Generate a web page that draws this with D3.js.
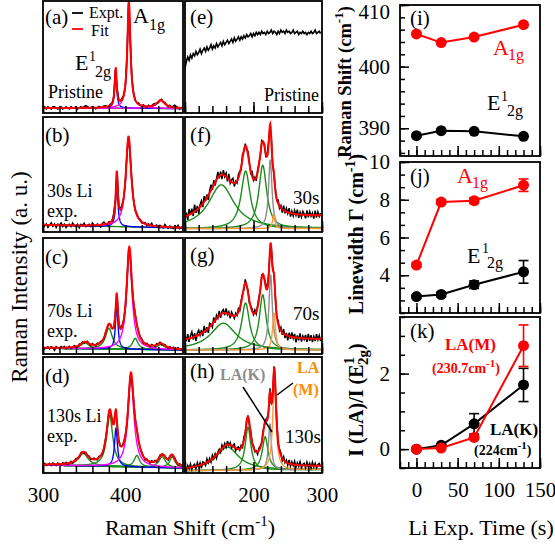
<!DOCTYPE html>
<html><head><meta charset="utf-8">
<script src="https://cdn.jsdelivr.net/npm/d3@7"></script>
<style>body{margin:0;background:#fff}</style>
</head><body><svg id="c" width="555" height="546"></svg>
<script>
// ---------------- DATA ----------------
const leftDomain=[300,470];   // Raman shift cm-1, panels a-d
const midDomain=[100,300];    // Raman shift cm-1, panels e-h
const leftMajor=[300,400], leftMinor=d3.range(300,461,20);
const midMajor=[100,200,300], midMinor=d3.range(100,301,20);
const leftLabels=[300,400], midLabels=[200,300];
// Lorentzian components: [center cm-1, FWHM, amplitude (a.u.), mode]
const compsA=[[388.3,2.9,0.34,"E"],[404.3,4.5,0.95,"A"],[443,12,0.07,"A"]];
const compsB=[[389.6,2.95,0.43,"E"],[403.9,7.9,0.78,"A"]];
const compsC=[[351,12,0.05,"G"],[380,10,0.18,"G"],[389.5,3.5,0.385,"E"],[404.8,7.9,0.848,"A"],[412,8,0.095,"G"],[443,12,0.043,"G"]];
const compsD=[[349,14,0.107,"G"],[381,9,0.44,"G"],[388.6,4.2,0.33,"E"],[406.8,8.7,0.77,"A"],[414,8,0.1,"G"],[444.7,10,0.093,"G"],[457,8,0.093,"G"]];
const compsF=[[153,45,0.38,"G"],[188.5,16,0.5,"G"],[213.5,14,0.55,"G"],[224.5,6,0.6,"K"],[229.5,4,0.12,"M"]];
const compsG=[[156,45,0.23,"G"],[188.4,14,0.405,"G"],[213.5,12,0.475,"G"],[225,6,0.65,"K"],[230,5,0.32,"M"]];
const compsH=[[162,40,0.2,"G"],[192,10,0.37,"G"],[217,10,0.287,"G"],[224,5,0.4,"K"],[230.5,6,0.76,"M"]];
// backgrounds [at low end, at high end] (fit) and component baselines
const bgA=[0.045,0.04], bgB=[0.06,0.035], bgC=[0.05,0.035], bgD=[0.069,0.043];
const bgF=[0.07,0.13], bgG=[0.09,0.12], bgH=[0.02,0.055];
const cbF=[0.03,0.03], cbG=[0.035,0.035], cbH=[0.02,0.03];
// experimental residuals (x 0.01 a.u.), step 2 cm-1 from the low end
const resA=[0,1,-1,1,0,-1,1,1,0,-1,0,1,-1,0,1,0,-1,1,0,0,1,-1,0,1,0,1,2,1,0,0,1,0,-1,0,1,0,0,1,1,0,0,1,0,-1,0,1,0,0,1,0,-1,0,1,0,0,1,-1,0,1,0,0,1,0,-1,1,0,0,1,1,0,-1,0,1,0,1,0,-1,1,0,1,2,1,0,-1,0,1];
const resB=[2,-1,1,-2,0,2,-1,1,-2,1,0,2,-1,1,-2,0,1,-1,2,0,-1,1,-2,1,0,2,-1,0,1,-1,2,0,-1,1,0,-2,1,2,0,-1,1,0,-1,2,0,1,-1,0,1,0,-1,1,0,-1,1,0,-1,1,0,1,-1,0,1,-1,1,0,2,-1,0,1,-1,1,0,-1,2,0,-1,1,0,-1,1,0,2,-1,0,1];
const resC=[1,-1,0,1,-1,1,0,-2,1,0,-1,1,0,1,-1,0,1,-1,0,1,0,-1,1,0,1,-1,0,1,0,-1,1,0,-1,1,0,1,0,-1,1,0,0,1,0,-1,0,1,0,0,1,0,-1,0,1,0,-1,1,0,-1,1,0,1,-1,0,1,0,-1,1,0,-1,1,0,1,-1,0,1,0,-1,1,0,1,-1,0,1,0,-1,1];
const resD=[0,1,-1,0,1,-1,1,0,-1,1,0,-1,1,0,1,-1,0,1,-1,0,1,0,-1,1,0,-1,1,0,1,-1,0,1,0,-1,1,0,-1,0,1,0,1,-1,0,1,0,-1,1,0,0,1,0,-1,1,0,-1,1,0,1,-1,0,1,0,-1,1,0,-1,1,0,1,-1,0,1,-1,0,1,0,-1,1,0,-1,1,0,-1,1,0,1];
const resF=[-2,3,-4,5,-1,4,-3,6,-2,3,-5,2,4,-3,5,-1,3,-4,2,5,-2,4,-3,1,5,-2,3,-4,4,-1,3,-3,5,-2,2,4,-3,1,-2,3,2,-3,4,-1,2,-2,3,1,-2,4,-1,2,-3,2,1,-2,3,-1,2,-2,1,3,-2,2,-1,1,2,-1,3,-2,2,-3,4,-2,3,-1,4,-3,2,-2,3,-1,4,-3,2,-2,3,1,-3,4,-2,3,-1,2,-3,4,-2,3,-1,2];
const resG=[3,-2,4,-3,2,5,-2,3,-4,2,4,-1,3,-3,5,-2,2,-4,3,1,-3,4,-2,3,-1,4,-3,2,3,-2,4,-1,2,-3,3,1,-2,2,-1,3,-2,2,1,-2,3,-1,2,-2,1,2,-1,3,-2,1,2,-1,2,-2,1,3,-1,2,-2,1,2,-1,1,-2,3,-2,3,-2,4,-3,2,-4,3,-2,4,-1,3,-4,2,-2,4,-3,2,-1,3,-3,4,-2,3,-3,2,-2,4,-1,3,-2];
const resH=[1,-2,2,-1,3,-2,1,2,-2,3,-1,2,-3,2,1,-2,3,-1,2,-2,3,-1,2,-3,1,2,-2,3,-1,2,-2,3,-1,2,-2,1,3,-2,1,2,-1,2,-2,3,-1,2,1,-2,2,-1,2,-1,1,-2,2,1,-1,2,-1,1,2,-1,3,-2,1,2,-1,2,-2,1,2,-2,3,-1,2,-2,3,-2,2,-1,3,-2,2,-1,3,-2,1,2,-2,3,-1,2,-2,3,-1,2,-2,1,2,-1];
// pristine low-frequency spectrum (e), step 2 cm-1 from 100
const exptE=[0.40,0.46,0.50,0.47,0.52,0.49,0.53,0.51,0.55,0.52,0.54,0.57,0.53,0.56,0.58,0.55,0.59,0.56,0.58,0.61,0.57,0.60,0.58,0.62,0.59,0.61,0.63,0.60,0.64,0.61,0.63,0.65,0.62,0.64,0.66,0.63,0.67,0.64,0.66,0.68,0.65,0.68,0.66,0.69,0.67,0.70,0.68,0.69,0.71,0.68,0.71,0.69,0.72,0.70,0.72,0.70,0.73,0.71,0.72,0.70,0.73,0.71,0.72,0.74,0.71,0.73,0.72,0.70,0.73,0.71,0.74,0.72,0.73,0.71,0.74,0.72,0.73,0.71,0.72,0.74,0.71,0.72,0.73,0.70,0.72,0.71,0.73,0.71,0.72,0.70,0.72,0.71,0.73,0.71,0.72,0.74,0.71,0.72,0.73,0.71];
// right column
const times=[0,30,70,130];
const shiftA1g=[405.3,403.9,404.8,406.8];
const shiftE2g=[388.8,389.6,389.5,388.7];
const widthA1g=[4.54,7.88,7.95,8.77], errWidthA1g=[0.1,0.12,0.15,0.33];
const widthE2g=[2.87,2.98,3.5,4.18], errWidthE2g=[0.08,0.12,0.2,0.6];
const ratioLAK=[0,0.1,0.67,1.7], errLAK=[0,0.03,0.27,0.44];
const ratioLAM=[0,0.03,0.31,2.74], errLAM=[0,0,0.05,0.55];
const timeDomain=[-20,150], timeMajor=[0,50,100,150], timeMinor=d3.range(-20,151,10);
const shiftDomain=[385.5,410], shiftMajor=[390,400,410], shiftMinor=d3.range(386,410.1,2);
const widthDomain=[2,10], widthMajor=[4,6,8,10], widthMinor=d3.range(2,10.01,2/3);
const ratioDomain=[-0.5,3.5], ratioMajor=[0,2], ratioMinor=d3.range(-0.5,3.51,0.5);

// ---------------- DRAWING ----------------
const svg=d3.select("#c");
const FONT='"Liberation Serif", "Times New Roman", Times, "DejaVu Serif", "Noto Serif", serif';
const modeColor={E:"#0000ff",A:"#ff00ff",G:"#1a8c1a",K:"#8c8c8c",M:"#ff9a3c"};
const modeOrder={G:0,E:1,A:2,K:3,M:4};
const lx=d3.scaleLinear().domain(leftDomain).range([43,183]);
const mx=d3.scaleLinear().domain(midDomain).range([185,322]);
const rows=[[1,113],[117,232],[238,354],[357,473]];
const defs=svg.append("defs");

function lor(v,c){return c[2]/(1+Math.pow((v-c[0])/(c[1]/2),2));}
function lin(b,dom,v){return b[0]+(b[1]-b[0])*(v-dom[0])/(dom[1]-dom[0]);}

function spectrum(id,x,row,o){
  const [top,bot]=rows[row];
  const y=d3.scaleLinear().domain([0,1]).range([bot,top]);
  const dom=x.domain();
  const [x0,x1]=x.range();
  defs.append("clipPath").attr("id","clip"+id).append("rect").attr("x",x0).attr("y",top).attr("width",x1-x0).attr("height",bot-top);
  const g=svg.append("g").attr("clip-path",`url(#clip${id})`);
  const line=d3.line().x(d=>x(d[0])).y(d=>y(d[1]));
  if(o.comps){
    const fine=d3.range(dom[0],dom[1]+1e-9,o.fine);
    const cb=o.cbase||o.base;
    if(o.showBase){
      g.append("path").attr("d",line(fine.map(v=>[v,lin(cb,dom,v)]))).attr("fill","none").attr("stroke",modeColor.G).attr("stroke-width",1.4);
    }
    const cs=o.comps.slice().sort((a,b)=>modeOrder[a[3]]-modeOrder[b[3]]);
    cs.forEach(c=>{
      g.append("path").attr("d",line(fine.map(v=>[v,lin(cb,dom,v)+lor(v,c)]))).attr("fill","none").attr("stroke",modeColor[c[3]]).attr("stroke-width",1.4);
    });
    const fit=v=>lin(o.base,dom,v)+d3.sum(o.comps,c=>lor(v,c));
    const ex=o.res.map((r,i)=>{const v=dom[0]+2*i;return [v,fit(v)+r*0.01];});
    g.append("path").attr("d",line(ex)).attr("fill","none").attr("stroke","#000").attr("stroke-width",1.5);
    g.append("path").attr("d",line(fine.map(v=>[v,fit(v)]))).attr("fill","none").attr("stroke","#ff0000").attr("stroke-width",2);
  } else {
    const ex=o.expt.map((r,i)=>[dom[0]+2*i,r]);
    g.append("path").attr("d",line(ex)).attr("fill","none").attr("stroke","#000").attr("stroke-width",1.6);
  }
  svg.append("rect").attr("x",x0).attr("y",top).attr("width",x1-x0).attr("height",bot-top).attr("fill","none").attr("stroke","#000").attr("stroke-width",1.8);
  return {y,top,bot};
}

function styleAxis(s,size){
  s.select(".domain").remove();
  s.attr("font-family",null);
  s.selectAll("line").attr("stroke","#000").attr("stroke-width",1.5);
  s.selectAll("text").style("font-family",FONT).attr("font-size",size||21).attr("fill","#000");
}
function bottomAxis(x,yPix,minor,major,labels,minLen,majLen){
  const g1=svg.append("g").attr("transform",`translate(0,${yPix})`)
    .call(d3.axisBottom(x).tickValues(minor).tickSizeInner(-minLen).tickSizeOuter(0).tickFormat(""));
  styleAxis(g1);
  const g2=svg.append("g").attr("transform",`translate(0,${yPix})`)
    .call(d3.axisBottom(x).tickValues(major).tickSizeInner(-majLen).tickSizeOuter(0).tickPadding(14)
      .tickFormat(d=>labels&&labels.includes(d)?d3.format("d")(d):""));
  styleAxis(g2);
}
function leftAxis(y,xPix,minor,major,minLen,majLen){
  const g1=svg.append("g").attr("transform",`translate(${xPix},0)`)
    .call(d3.axisLeft(y).tickValues(minor).tickSizeInner(-minLen).tickSizeOuter(0).tickFormat(""));
  styleAxis(g1);
  const g2=svg.append("g").attr("transform",`translate(${xPix},0)`)
    .call(d3.axisLeft(y).tickValues(major).tickSizeInner(-majLen).tickSizeOuter(0).tickPadding(10).tickFormat(d3.format("d")));
  styleAxis(g2);
  // keep a label that sits on the very top edge inside the picture
  g2.selectAll(".tick text").each(function(){
    const yy=y(d3.select(this.parentNode).datum());
    if(yy<10) d3.select(this).attr("dy","0.62em");
  });
}
function txt(x,y,s,o){
  o=o||{};
  return svg.append("text").attr("x",x).attr("y",y).text(s).style("font-family",FONT)
    .attr("font-size",o.size||21).attr("fill",o.fill||"#000").attr("font-weight",o.bold?"bold":null)
    .attr("text-anchor",o.anchor||"start");
}
function rich(x,y,parts,o){
  const t=svg.append("text").attr("x",x).attr("y",y).style("font-family",FONT).attr("font-size",o.size)
    .attr("font-weight",o.bold?"bold":null).attr("fill",o.fill||"#000").attr("text-anchor",o.anchor||"start");
  if(o.rotate) t.attr("transform",`rotate(-90,${x},${y})`);
  let cur=0;
  parts.forEach(p=>{
    const s=t.append("tspan").text(p[0]);
    const target=-(p[1]||0);
    if(target!==cur) s.attr("dy",target-cur);
    cur=target;
    if(p[2]) s.attr("font-size",p[2]);
    if(p[3]) s.attr("dx",p[3]);
  });
  return t;
}

// left column
spectrum("a",lx,0,{comps:compsA,base:bgA,res:resA,fine:0.2,showBase:true});
spectrum("b",lx,1,{comps:compsB,base:bgB,res:resB,fine:0.2,showBase:true});
spectrum("c",lx,2,{comps:compsC,base:bgC,res:resC,fine:0.2,showBase:true});
spectrum("d",lx,3,{comps:compsD,base:bgD,res:resD,fine:0.2,showBase:true});
// middle column
spectrum("e",mx,0,{expt:exptE});
spectrum("f",mx,1,{comps:compsF,base:bgF,cbase:cbF,res:resF,fine:0.5});
spectrum("g",mx,2,{comps:compsG,base:bgG,cbase:cbG,res:resG,fine:0.5});
spectrum("h",mx,3,{comps:compsH,base:bgH,cbase:cbH,res:resH,fine:0.5});
rows.forEach((r,i)=>{
  bottomAxis(lx,r[1],leftMinor,leftMajor,i===3?leftLabels:null,7,7);
  bottomAxis(mx,r[1],midMinor,midMajor,i===3?midLabels:null,7,11);
});

// panel texts, left
txt(45,24,"(a)");
svg.append("line").attr("x1",72).attr("x2",83).attr("y1",13).attr("y2",13).attr("stroke","#000").attr("stroke-width",1.8);
svg.append("line").attr("x1",72).attr("x2",83).attr("y1",29).attr("y2",29).attr("stroke","#ff0000").attr("stroke-width",1.8);
txt(89,18,"Expt.",{size:16});
txt(91,36,"Fit",{size:16});
txt(133,23,"A",{size:22}); txt(149,30,"1g",{size:16});
txt(75,70,"E",{size:22}); txt(89,61,"1",{size:14}); txt(95,77,"2g",{size:16});
txt(48,98,"Pristine",{size:18});
txt(45,142,"(b)"); txt(47,197,"30s Li",{size:18}); txt(47,217,"exp.",{size:18});
txt(45,264,"(c)"); txt(47,317,"70s Li",{size:18}); txt(47,337,"exp.",{size:18});
txt(45,383,"(d)"); txt(47,422,"130s Li",{size:18}); txt(47,442,"exp.",{size:18});
// middle texts
txt(190,24,"(e)"); txt(264,101,"Pristine",{size:18});
txt(190,142,"(f)"); txt(293,204,"30s",{size:19});
txt(190,262,"(g)"); txt(293,320,"70s",{size:19});
txt(190,378,"(h)"); txt(285,443,"130s",{size:19});
txt(220,380,"LA(K)",{size:16,bold:true,fill:"#8c8c8c"});
txt(297,373,"LA",{size:16,bold:true,fill:"#ff8c00"});
txt(293,395,"(M)",{size:16,bold:true,fill:"#ff8c00"});
svg.append("line").attr("x1",243).attr("y1",387).attr("x2",272).attr("y2",432).attr("stroke","#000").attr("stroke-width",1.5);
svg.append("line").attr("x1",293).attr("y1",383).attr("x2",277).attr("y2",395).attr("stroke","#000").attr("stroke-width",1.5);

// axis titles
rich(27,277,[["Raman Intensity (a. u.)"]],{size:23,rotate:true,anchor:"middle"});
rich(190,535,[["Raman Shift (cm"],["-1",9,15],[")",0]],{size:22,anchor:"middle"});
txt(481,535,"Li Exp. Time (s)",{size:22,anchor:"middle"});
rich(351,82,[["Raman Shift (cm"],["-1",8,13],[")",0]],{size:18.5,bold:true,rotate:true,anchor:"middle"});
rich(363,234,[["Linewidth Γ (cm"],["-1",8,14],[")",0]],{size:20,bold:true,rotate:true,anchor:"middle"});
rich(363,400,[["I (LA)/I (E"],["1",9,15],["2g",-5,15,-8],[")",0]],{size:20,bold:true,rotate:true,anchor:"middle"});

// right column
const rx=d3.scaleLinear().domain(timeDomain).range([400,540]);
const yi=d3.scaleLinear().domain(shiftDomain).range([156,5]);
const yj=d3.scaleLinear().domain(widthDomain).range([313,162]);
const yk=d3.scaleLinear().domain(ratioDomain).range([468,317]);
[[yi,5,156],[yj,162,313],[yk,317,468]].forEach(([y,t,b])=>{
  svg.append("rect").attr("x",400).attr("y",t).attr("width",140).attr("height",b-t).attr("fill","none").attr("stroke","#000").attr("stroke-width",1.8);
  bottomAxis(rx,b,timeMinor,timeMajor,y===yk?timeMajor:null,6,10);
});
leftAxis(yi,400,shiftMinor,shiftMajor,5,9);
leftAxis(yj,400,widthMinor,widthMajor,5,9);
leftAxis(yk,400,ratioMinor,ratioMajor,5,9);

function series(y,vals,errs,color){
  const g=svg.append("g");
  const pts=times.map((t,i)=>[t,vals[i],errs?errs[i]:0]);
  if(errs){
    pts.forEach(p=>{
      if(p[2]<=0) return;
      g.append("line").attr("x1",rx(p[0])).attr("x2",rx(p[0])).attr("y1",y(p[1]-p[2])).attr("y2",y(p[1]+p[2])).attr("stroke",color).attr("stroke-width",1.6);
      [p[1]-p[2],p[1]+p[2]].forEach(v=>g.append("line").attr("x1",rx(p[0])-5).attr("x2",rx(p[0])+5).attr("y1",y(v)).attr("y2",y(v)).attr("stroke",color).attr("stroke-width",1.6));
    });
  }
  g.append("path").attr("d",d3.line().x(d=>rx(d[0])).y(d=>y(d[1]))(pts)).attr("fill","none").attr("stroke",color).attr("stroke-width",2);
  g.selectAll("circle").data(pts).join("circle").attr("cx",d=>rx(d[0])).attr("cy",d=>y(d[1])).attr("r",5.5).attr("fill",color);
}
series(yi,shiftA1g,null,"#ff0000");
series(yi,shiftE2g,null,"#000");
series(yj,widthA1g,errWidthA1g,"#ff0000");
series(yj,widthE2g,errWidthE2g,"#000");
series(yk,ratioLAK,errLAK,"#000");
series(yk,ratioLAM,errLAM,"#ff0000");

txt(410,25,"(i)");
txt(493,55,"A",{size:22,fill:"#ff0000"}); txt(508,60,"1g",{size:16,fill:"#ff0000"});
txt(487,110,"E",{size:22}); txt(501,101,"1",{size:14}); txt(507,116,"2g",{size:16});
txt(410,183,"(j)");
txt(457,183,"A",{size:22,fill:"#ff0000"}); txt(472,188,"1g",{size:16,fill:"#ff0000"});
txt(467,263,"E",{size:22}); txt(482,253,"1",{size:14}); txt(487,268,"2g",{size:16});
txt(410,338,"(k)");
txt(445,350,"LA(M)",{size:17,bold:true,fill:"#ff0000"});
rich(432,373,[["(230.7cm"],["-1",6,11],[")",0]],{size:14,bold:true,fill:"#ff0000"});
txt(490,435,"LA(K)",{size:17,bold:true});
rich(474,455,[["(224cm"],["-1",6,11],[")",0]],{size:14,bold:true});
</script></body></html>
